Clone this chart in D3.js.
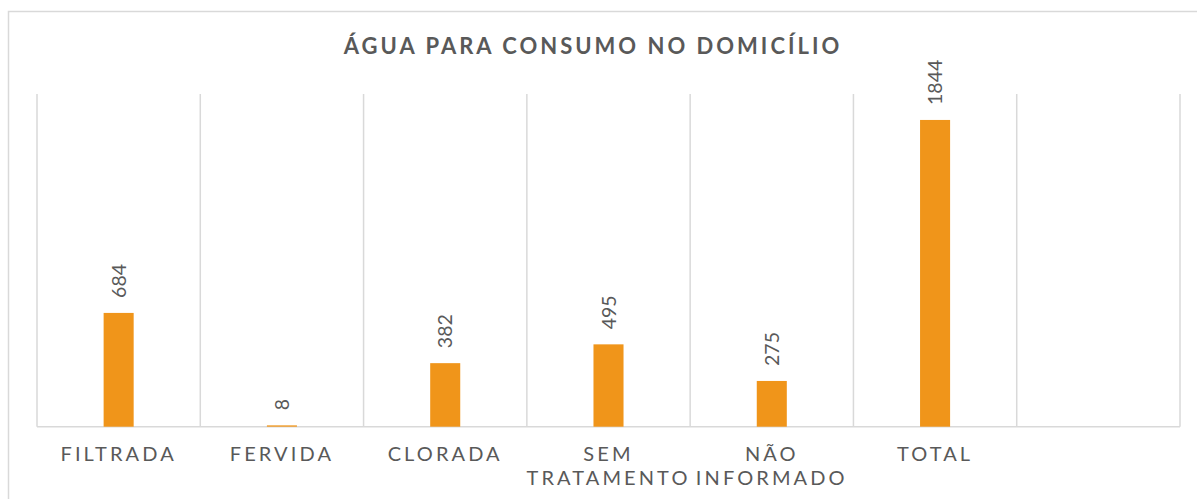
<!DOCTYPE html>
<html>
<head>
<meta charset="utf-8">
<script src="https://cdn.jsdelivr.net/npm/d3@7"></script>
<style>
  body { margin: 0; background: #fff; }
  text { font-family: Lato, "Open Sans", sans-serif; fill: #595959; }
</style>
</head>
<body>
<div id="chart"></div>
<script>
// Chart data
const categories = ["FILTRADA", "FERVIDA", "CLORADA", "SEM TRATAMENTO", "NÃO INFORMADO", "TOTAL", ""];
const values = [684, 8, 382, 495, 275, 1844];
const yMax = 2000;
const chartTitle = "ÁGUA PARA CONSUMO NO DOMICÍLIO";

// Plot constants
const W = 1197, H = 499;
const PLOT = {LEFT: 37, RIGHT: 1180, TOP: 94, BOTTOM: 426.7};
const BAR_RATIO = 0.184;
const GRID = "#d9d9d9";

const svg = d3.select("#chart")
  .append("svg")
  .attr("width", W)
  .attr("height", H);

// outer frame (only top/left visible)
svg.append("rect")
  .attr("x", 8.5)
  .attr("y", 11.5)
  .attr("width", 1300)
  .attr("height", 700)
  .attr("fill", "none")
  .attr("stroke", GRID)
  .attr("stroke-width", 1.5);

const x = d3.scaleBand()
  .domain(categories)
  .range([PLOT.LEFT, PLOT.RIGHT])
  .padding(0);

const y = d3.scaleLinear()
  .domain([0, yMax])
  .range([PLOT.BOTTOM, PLOT.TOP]);

// vertical gridlines at category boundaries
const bounds = categories.map(c => x(c)).concat([PLOT.RIGHT]);
svg.append("g")
  .selectAll("line")
  .data(bounds)
  .enter()
  .append("line")
  .attr("x1", d => d)
  .attr("x2", d => d)
  .attr("y1", y(yMax))
  .attr("y2", y(0))
  .attr("stroke", GRID)
  .attr("stroke-width", 1.5);

// baseline
svg.append("line")
  .attr("x1", PLOT.LEFT)
  .attr("x2", PLOT.RIGHT)
  .attr("y1", y(0))
  .attr("y2", y(0))
  .attr("stroke", GRID)
  .attr("stroke-width", 1.5);

const barW = x.bandwidth() * BAR_RATIO;
const data = values.map((v, i) => ({cat: categories[i], value: v}));

svg.append("g")
  .selectAll("rect")
  .data(data)
  .enter()
  .append("rect")
  .attr("x", d => x(d.cat) + (x.bandwidth() - barW) / 2)
  .attr("width", barW)
  .attr("y", d => y(d.value))
  .attr("height", d => y(0) - y(d.value))
  .attr("fill", "#f0951a");

// rotated value labels
svg.append("g")
  .selectAll("text")
  .data(data)
  .enter()
  .append("text")
  .attr("transform", d =>
    "translate(" + (x(d.cat) + x.bandwidth() / 2) + "," + (y(d.value) - 15) + ") rotate(-90)")
  .attr("dy", "0.36em")
  .attr("text-anchor", "start")
  .style("font-size", "19.5px")
  .text(d => d.value);

// category labels
const catG = svg.append("g")
  .selectAll("text")
  .data(categories.filter(c => c !== ""))
  .enter()
  .append("text")
  .attr("text-anchor", "middle")
  .style("font-size", "20px")
  .style("letter-spacing", "3.1px");

catG.selectAll("tspan")
  .data(d => d.split(" ").map(w => ({w: w, c: d})))
  .enter()
  .append("tspan")
  .attr("x", d => x(d.c) + x.bandwidth() / 2)
  .attr("y", (d, i) => 460.7 + i * 24.5)
  .text(d => d.w);

// title
svg.append("text")
  .attr("x", 593)
  .attr("y", 54)
  .attr("text-anchor", "middle")
  .style("font-size", "22px")
  .style("font-weight", "bold")
  .style("letter-spacing", "3px")
  .text(chartTitle);
</script>
</body>
</html>
